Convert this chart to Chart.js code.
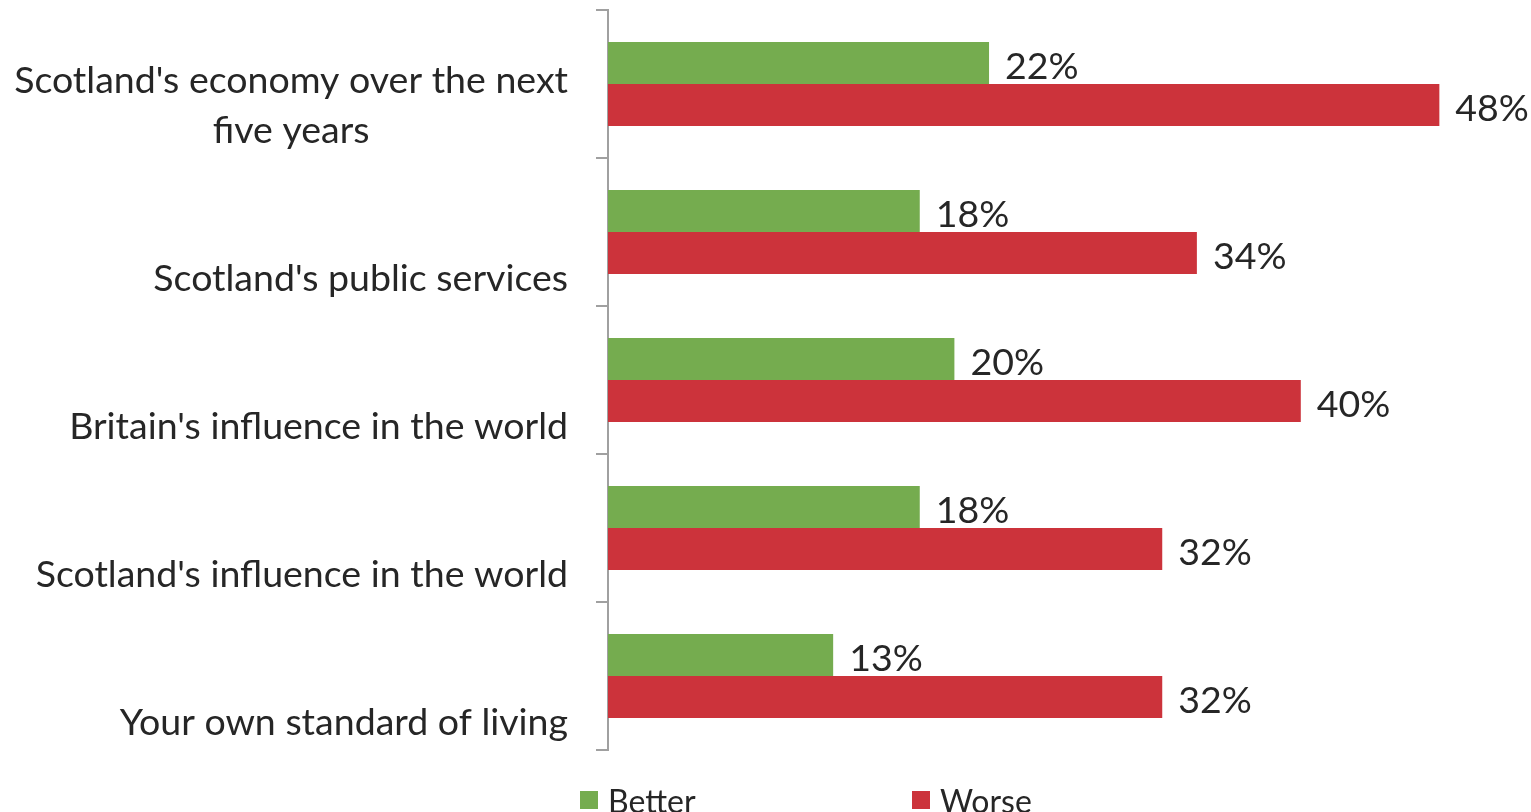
<!DOCTYPE html>
<html>
<head>
<meta charset="utf-8">
<script src="https://cdn.jsdelivr.net/npm/chart.js@4/dist/chart.umd.min.js"></script>
<style>
  html,body{margin:0;padding:0;background:#fff;}
  #wrap{width:1531px;height:812px;position:relative;}
</style>
</head>
<body>
<div id="wrap"><canvas id="chart" width="1531" height="812"></canvas></div>
<script>
// data
const categories = [
  ["Scotland's economy over the next", "five years"],
  ["Scotland's public services"],
  ["Britain's influence in the world"],
  ["Scotland's influence in the world"],
  ["Your own standard of living"]
];
const better = [22, 18, 20, 18, 13];
const worse = [48, 34, 40, 32, 32];
const seriesNames = ['Better', 'Worse'];

const GREEN = '#75ac4f';
const RED = '#cc333b';
const TXT = '#262626';
const FONT = 'Lato, "Open Sans", sans-serif';
const LBL_SIZE = 37.5;
const LEG_SIZE = 32;

// category labels: right aligned, last line sits below the band centre
const catLabels = {
  id: 'catLabels',
  afterDraw(chart){
    const c = chart.ctx, y = chart.scales.y, a = chart.chartArea;
    c.save();
    c.font = LBL_SIZE + 'px ' + FONT;
    c.fillStyle = TXT;
    c.textBaseline = 'middle';
    categories.forEach((lines, i) => {
      const cy = y.getPixelForValue(i) + 47;
      if(lines.length > 1){
        // multi line label: lines centred on the widest one
        const w = Math.max(...lines.map(l => c.measureText(l).width));
        const cx = a.left - 40 - w/2;
        c.textAlign = 'center';
        lines.forEach((l, k) => c.fillText(l, cx, cy - (lines.length-1-k)*50));
      } else {
        c.textAlign = 'right';
        c.fillText(lines[0], a.left - 40, cy);
      }
    });
    c.restore();
  }
};

// value labels at bar ends
const valueLabels = {
  id: 'valueLabels',
  afterDatasetsDraw(chart){
    const c = chart.ctx;
    c.save();
    c.font = LBL_SIZE + 'px ' + FONT;
    c.fillStyle = TXT;
    c.textAlign = 'left';
    c.textBaseline = 'middle';
    chart.data.datasets.forEach((ds, di) => {
      chart.getDatasetMeta(di).data.forEach((bar, i) => {
        c.fillText(ds.data[i] + '%', bar.x + 16, bar.y + 4);
      });
    });
    c.restore();
  }
};

// bottom legend, partly cut by the canvas edge like the original
const bottomLegend = {
  id: 'bottomLegend',
  afterDraw(chart){
    const c = chart.ctx, a = chart.chartArea;
    const xs = [a.left - 28, a.left + 304];
    c.save();
    c.font = LEG_SIZE + 'px ' + FONT;
    c.textAlign = 'left';
    c.textBaseline = 'middle';
    chart.data.datasets.forEach((ds, i) => {
      c.fillStyle = ds.backgroundColor;
      c.fillRect(xs[i], 791, 18, 18);
      c.fillStyle = TXT;
      c.fillText(ds.label, xs[i] + 28, 803);
    });
    c.restore();
  }
};

const ctx = document.getElementById('chart').getContext('2d');
const chart = new Chart(ctx, {
  type: 'bar',
  data: {
    labels: categories.map(l => l.join(' ')),
    datasets: [
      {label: seriesNames[0], data: better, backgroundColor: GREEN, categoryPercentage: 0.568, barPercentage: 1.0},
      {label: seriesNames[1], data: worse, backgroundColor: RED, categoryPercentage: 0.568, barPercentage: 1.0}
    ]
  },
  options: {
    indexAxis: 'y',
    responsive: false,
    animation: false,
    layout: {padding: {top: 10, bottom: 62, left: 0, right: 57}},
    plugins: {legend: {display: false}, tooltip: {enabled: false}},
    scales: {
      x: {min: 0, max: 50, display: false},
      y: {
        ticks: {display: false},
        grid: {offset: true, drawOnChartArea: false, drawTicks: true, tickLength: 12, color: '#a0a0a0', lineWidth: 2},
        border: {display: true, color: '#a0a0a0', width: 2},
        afterFit(s){ s.width = 608; }
      }
    }
  },
  plugins: [catLabels, valueLabels, bottomLegend]
});
</script>
</body>
</html>
